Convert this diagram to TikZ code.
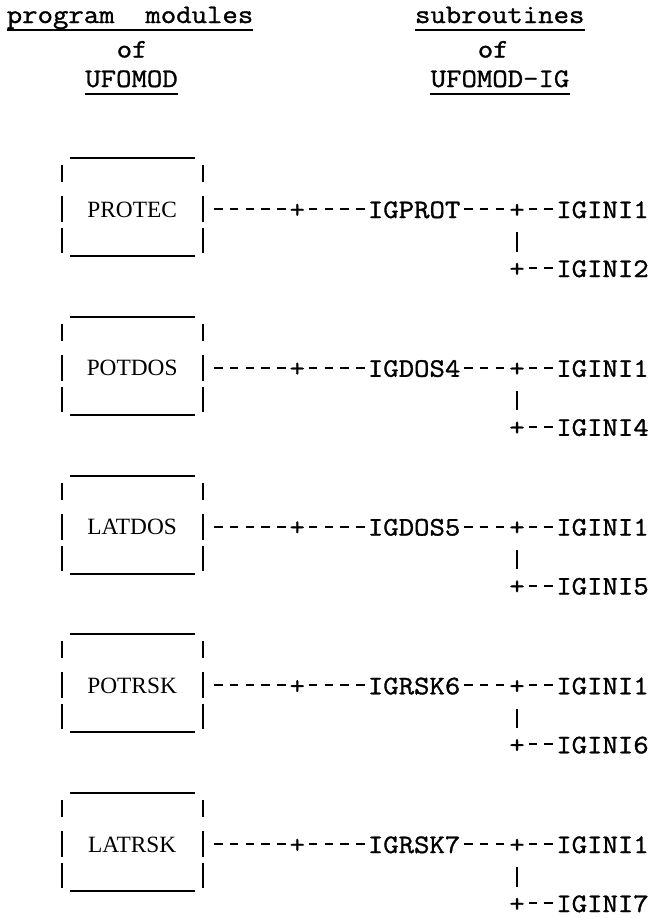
\documentclass[tikz,border=0pt]{standalone}
\usepackage{fontspec}
\setmonofont{Latin Modern Mono}[FakeStretch=1.1214, FakeBold=1.2]
\newfontfamily\labfont{Liberation Serif}
\usetikzlibrary{calc}

% one picture unit = one pixel of a 653 x 918 page, y grows downwards
% typewriter grid: column c has its left edge at 53.65 + 15.7 c
\newcommand\colx[1]{{53.65+15.7*(#1)}}

\tikzset{
  twfont/.style={font=\ttfamily\fontsize{20pt}{20pt}\selectfont},
  tw/.style={twfont, inner sep=0pt, anchor=west, text height=13.5pt, text depth=0pt},
  hd/.style={twfont, inner sep=0pt, anchor=base west},
  plus/.style={tw, text width=11.775pt, align=center},
  lbl/.style={font=\labfont\fontsize{17.5pt}{20pt}\selectfont, inner sep=0pt, anchor=base},
  typed/.style={line width=1.5pt, dash pattern=on 6.375pt off 5.4pt, dash phase=9.075pt},
  bar/.style={line width=1.5pt},
  uline/.style={line width=1.2pt},
  vbar/.style={line width=1.5pt, shorten <=10.5pt, shorten >=5.25pt},
}

\begin{document}
\begin{tikzpicture}[x=0.75pt, y=-0.75pt]
\useasboundingbox (0,0) rectangle (653,918);

% column headings
\node[hd] (hl1) at (\colx{-3},23) {program\ \ modules};
\node[hd] (hl2) at (\colx{4},57.5) {of};
\node[hd] (hl3) at (\colx{2},87) {UFOMOD};
\node[hd] (hr1) at (\colx{23},23) {subroutines};
\node[hd] (hr2) at (\colx{27},57.5) {of};
\node[hd] (hr3) at (\colx{24},87) {UFOMOD-IG};
\foreach \h in {hl1,hl3,hr1,hr3}
  \draw[uline] ($(\h.base west)+(0,7)$) -- ($(\h.base east)+(0,7)$);

% one block per program module
\foreach \lab/\ig/\ini [count=\k from 0] in
  {PROTEC/IGPROT/IGINI2, POTDOS/IGDOS4/IGINI4, LATDOS/IGDOS5/IGINI5,
   POTRSK/IGRSK6/IGINI6, LATRSK/IGRSK7/IGINI7}{
  \begin{scope}[shift={(0,158.75*\k)}]
    % typed box round the module name
    \draw[bar] (70,158) -- (195,158) (70,256) -- (195,256);
    \foreach \bx in {61.5,202.8}
      \draw[bar] (\bx,165) -- (\bx,182) (\bx,196) -- (\bx,222) (\bx,228) -- (\bx,253);
    \node[lbl] (mod\k) at (132.15,217) {\lab};
    \coordinate (box\k) at (202.8,209);

    % subroutine tree
    \node[plus] (pa\k) at (\colx{15},209) {+};
    \node[tw]   (ig\k) at (\colx{20},209) {\ig};
    \node[plus] (pb\k) at (\colx{29},209) {+};
    \node[tw]   (ia\k) at (\colx{32},209) {IGINI1};
    \node[plus] (pc\k) at (\colx{29},268) {+};
    \node[tw]   (ib\k) at (\colx{32},268) {\ini};

    \draw[typed, shorten <=5.8875pt] (box\k) -- (pa\k);
    \draw[typed] (pa\k) -- (ig\k);
    \draw[typed] (ig\k) -- (pb\k);
    \draw[typed] (pb\k) -- (ia\k);
    \draw[typed] (pc\k) -- (ib\k);
    \draw[vbar] (pb\k) -- (pc\k);
  \end{scope}
}
\end{tikzpicture}
\end{document}
